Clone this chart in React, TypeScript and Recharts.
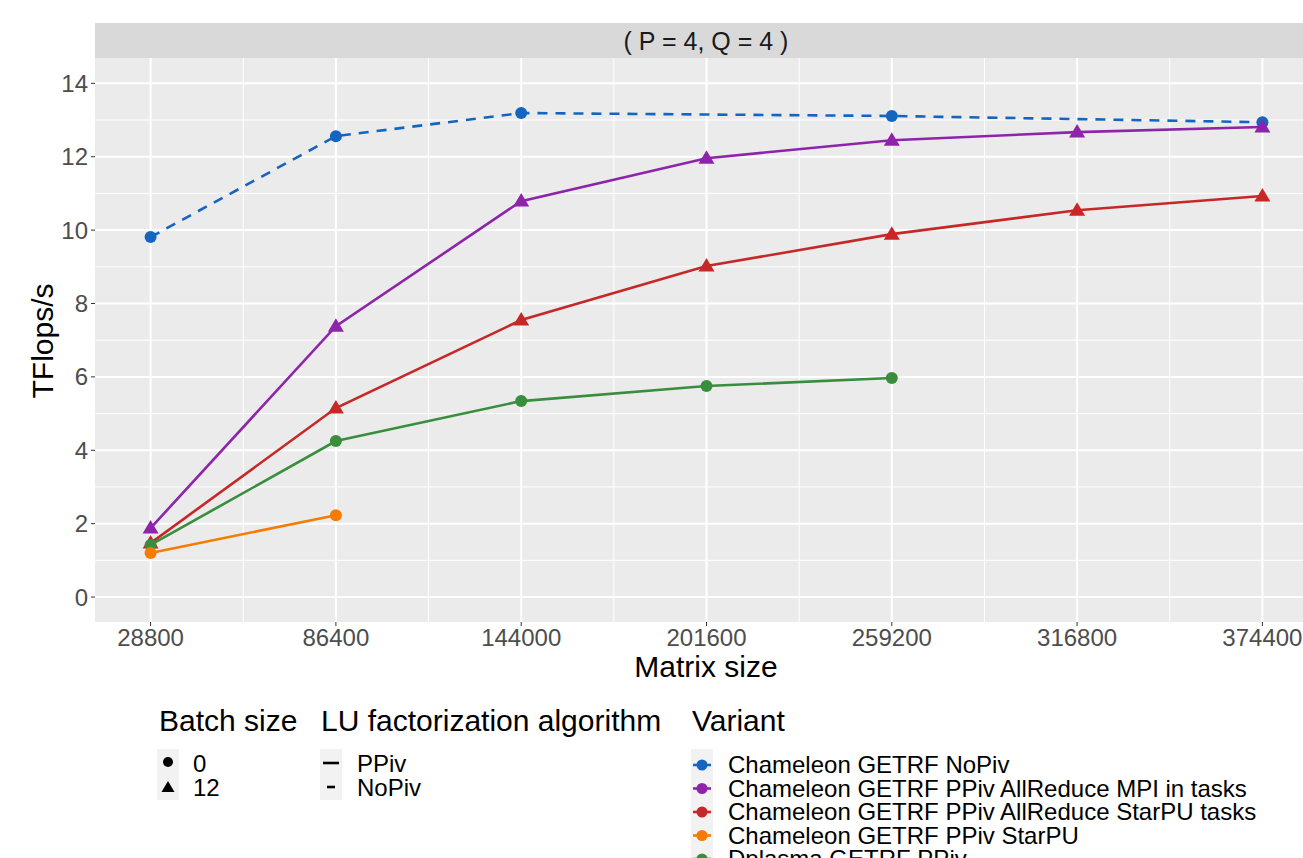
import { LineChart, Line, XAxis, YAxis, CartesianGrid } from 'recharts';

const matrixSizes = [28800, 86400, 144000, 201600, 259200, 316800, 374400];
const xMinor = [57600, 115200, 172800, 230400, 288000, 345600];
const yTicks = [0, 2, 4, 6, 8, 10, 12, 14];
const yMinor = [1, 3, 5, 7, 9, 11, 13];

// TFlops/s per variant
const noPivX = [28800, 86400, 144000, 259200, 374400];
const noPivY = [9.81, 12.56, 13.19, 13.11, 12.94];
const mpiTasksY = [1.88, 7.38, 10.79, 11.96, 12.45, 12.67, 12.81];
const starpuTasksY = [1.47, 5.15, 7.55, 9.02, 9.89, 10.54, 10.93];
const ppivStarpuX = [28800, 86400];
const ppivStarpuY = [1.2, 2.23];
const dplasmaX = [28800, 86400, 144000, 201600, 259200];
const dplasmaY = [1.42, 4.25, 5.34, 5.75, 5.97];

const variants = [
  'Chameleon GETRF NoPiv',
  'Chameleon GETRF PPiv AllReduce MPI in tasks',
  'Chameleon GETRF PPiv AllReduce StarPU tasks',
  'Chameleon GETRF PPiv StarPU',
  'Dplasma GETRF PPiv',
];
const colors = ['#1565C0', '#8E24AA', '#C62828', '#F57C00', '#388E3C'];

const zip = (xs: number[], ys: number[]) => xs.map((x, i) => ({ x, y: ys[i] }));

const series = [
  { name: variants[0], data: zip(noPivX, noPivY), color: colors[0], dashed: true, shape: 'circle' },
  { name: variants[1], data: zip(matrixSizes, mpiTasksY), color: colors[1], dashed: false, shape: 'triangle' },
  { name: variants[2], data: zip(matrixSizes, starpuTasksY), color: colors[2], dashed: false, shape: 'triangle' },
  { name: variants[4], data: zip(dplasmaX, dplasmaY), color: colors[4], dashed: false, shape: 'circle' },
  { name: variants[3], data: zip(ppivStarpuX, ppivStarpuY), color: colors[3], dashed: false, shape: 'circle' },
];

const FONT = '"Liberation Sans", Arial, Helvetica, sans-serif';

function makeDot(color: string, shape: string) {
  return (p: any) => {
    const { cx, cy, index } = p;
    if (cx == null || cy == null) return <g key={index} />;
    if (shape === 'triangle') {
      return (
        <polygon
          key={index}
          points={`${cx},${cy - 8} ${cx - 8},${cy + 5.5} ${cx + 8},${cy + 5.5}`}
          fill={color}
        />
      );
    }
    return <circle key={index} cx={cx} cy={cy} r={6} fill={color} />;
  };
}

export default function App() {
  return (
    <div style={{ position: 'absolute', left: 0, top: 0, width: 1303, height: 858, overflow: 'hidden', background: '#fff', fontFamily: FONT }}>
      <div style={{ position: 'absolute', left: 95, top: 23, width: 1223, height: 35, background: '#D9D9D9' }} />
      <div style={{ position: 'absolute', left: 0, top: 0 }}>
        <LineChart width={1318} height={858} margin={{ top: 58, right: 0, bottom: 196, left: 0 }}>
          <CartesianGrid
            fill="#EBEBEB"
            stroke="#FFFFFF"
            strokeWidth={1}
            horizontalValues={yMinor}
            verticalValues={xMinor}
          />
          <CartesianGrid
            fill="none"
            stroke="#FFFFFF"
            strokeWidth={2}
            horizontalValues={yTicks}
            verticalValues={matrixSizes}
          />
          <XAxis
            dataKey="x"
            type="number"
            domain={[11520, 391680]}
            ticks={matrixSizes}
            allowDataOverflow
            axisLine={false}
            tickLine={{ stroke: '#333333' }}
            tickSize={4}
            tickMargin={3}
            height={40}
            tick={{ fill: '#4D4D4D', fontSize: 24, fontFamily: FONT }}
          />
          <YAxis
            dataKey="y"
            type="number"
            domain={[-0.68, 14.69]}
            ticks={yTicks}
            allowDataOverflow
            axisLine={false}
            tickLine={{ stroke: '#333333' }}
            tickSize={4}
            tickMargin={3}
            width={95}
            tick={{ fill: '#4D4D4D', fontSize: 24, fontFamily: FONT }}
          />
          {series.map((s) => (
            <Line
              key={'l-' + s.name}
              data={s.data}
              dataKey="y"
              type="linear"
              stroke={s.color}
              strokeWidth={2.6}
              strokeDasharray={s.dashed ? '10 8' : undefined}
              dot={false}
              activeDot={false}
              isAnimationActive={false}
            />
          ))}
          {series.map((s) => (
            <Line
              key={'p-' + s.name}
              data={s.data}
              dataKey="y"
              type="linear"
              stroke="none"
              dot={makeDot(s.color, s.shape)}
              activeDot={false}
              isAnimationActive={false}
            />
          ))}
        </LineChart>
      </div>
      <svg width={1303} height={858} style={{ position: 'absolute', left: 0, top: 0, pointerEvents: 'none' }} fontFamily={FONT}>
        <text x={706} y={50} textAnchor="middle" fontSize={25} fill="#1A1A1A">( P = 4, Q = 4 )</text>
        <text x={706} y={677} textAnchor="middle" fontSize={30} fill="#000">Matrix size</text>
        <text x={53} y={341} textAnchor="middle" fontSize={30} fill="#000" transform="rotate(-90, 53, 341)">TFlops/s</text>

        {/* Batch size legend */}
        <text x={159} y={731} fontSize={30} fill="#000">Batch size</text>
        <rect x={157} y={749} width={22} height={51} fill="#F2F2F2" />
        <circle cx={168} cy={762} r={5} fill="#000" />
        <polygon points="168,781 161.5,792 174.5,792" fill="#000" />
        <text x={193} y={771.5} fontSize={24} fill="#000">0</text>
        <text x={193} y={795.5} fontSize={24} fill="#000">12</text>

        {/* LU factorization algorithm legend */}
        <text x={321} y={731} fontSize={30} fill="#000">LU factorization algorithm</text>
        <rect x={320} y={749} width={22} height={51} fill="#F2F2F2" />
        <line x1={323} x2={339} y1={763} y2={763} stroke="#000" strokeWidth={2.6} />
        <line x1={327} x2={335} y1={787} y2={787} stroke="#000" strokeWidth={2.6} />
        <text x={357} y={771.5} fontSize={24} fill="#000">PPiv</text>
        <text x={357} y={795.5} fontSize={24} fill="#000">NoPiv</text>

        {/* Variant legend */}
        <text x={692} y={731} fontSize={30} fill="#000">Variant</text>
        <rect x={691} y={749} width={22} height={120} fill="#F2F2F2" />
        {variants.map((v, i) => (
          <g key={v}>
            <line x1={693} x2={711} y1={765 + i * 23.5} y2={765 + i * 23.5} stroke={colors[i]} strokeWidth={2.6} />
            <circle cx={702} cy={765 + i * 23.5} r={5.5} fill={colors[i]} />
            <text x={728} y={773 + i * 23.5} fontSize={24} fill="#000">{v}</text>
          </g>
        ))}
      </svg>
    </div>
  );
}
